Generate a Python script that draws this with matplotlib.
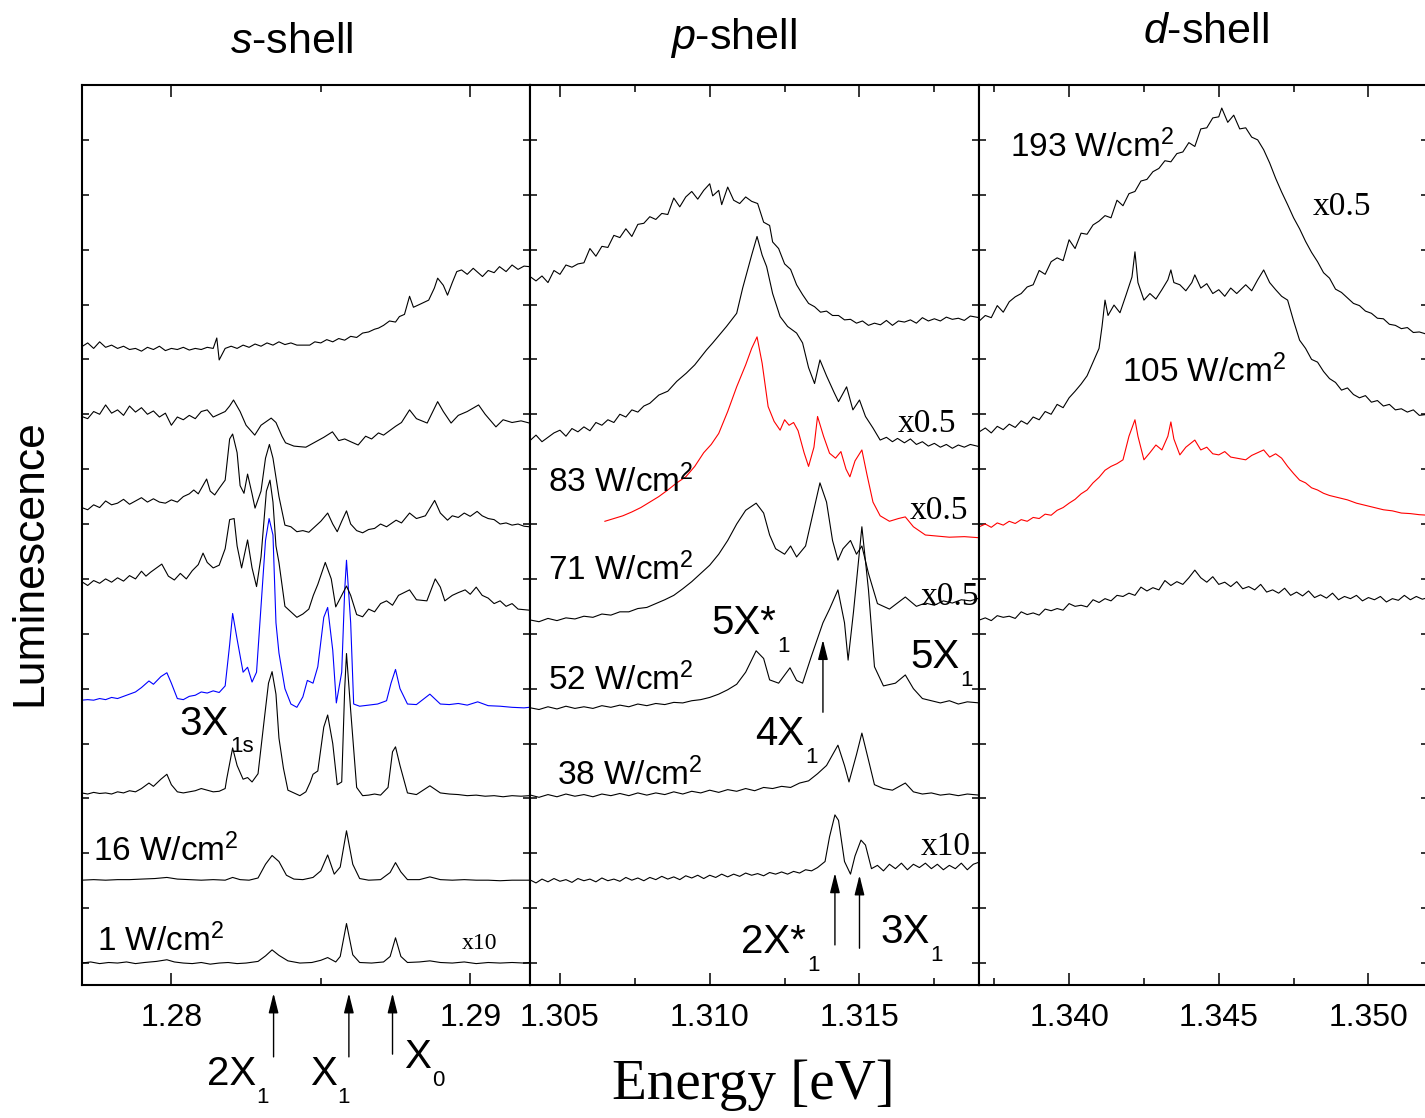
import numpy as np
import matplotlib as mpl
import matplotlib.pyplot as plt
from matplotlib.ticker import FixedLocator, FormatStrFormatter

mpl.rcParams.update({
    "font.family": "Liberation Sans",
    "mathtext.fontset": "custom",
    "mathtext.rm": "Liberation Sans",
    "mathtext.it": "Liberation Sans:italic",
    "mathtext.bf": "Liberation Sans:bold",
    "axes.linewidth": 1.5,
})

# ---------------------------------------------------------------------------
# data: (energy [eV], luminescence offset in tick units)
# ---------------------------------------------------------------------------
# s-shell, bottom -> top
S_1W = [(1.2770, 0.00), (1.2773, 0.02), (1.2776, -0.01), (1.2779, 0.01), (1.2782, 0.00),
        (1.2785, 0.02), (1.2788, -0.01), (1.2791, 0.01), (1.2795, 0.03), (1.27985, 0.06),
        (1.2801, 0.02), (1.2804, 0.00), (1.2807, -0.01), (1.2810, 0.01), (1.2813, -0.02),
        (1.2816, 0.00), (1.2819, 0.01), (1.2822, -0.01), (1.2825, 0.00), (1.2829, 0.03),
        (1.28315, 0.13), (1.28337, 0.24), (1.2836, 0.14), (1.2839, 0.04), (1.2843, 0.00),
        (1.2847, 0.01), (1.2850, 0.05), (1.28523, 0.10), (1.2855, 0.02), (1.28565, 0.12),
        (1.28586, 0.72), (1.28607, 0.15), (1.2863, 0.01), (1.2867, 0.00), (1.2871, 0.02),
        (1.28732, 0.12), (1.28750, 0.46), (1.28768, 0.12), (1.2879, 0.01), (1.2883, 0.02),
        (1.28865, 0.04), (1.2890, 0.01), (1.2894, 0.00), (1.2898, 0.02), (1.2902, -0.01),
        (1.2906, 0.01), (1.2910, 0.00), (1.2914, 0.01), (1.2918, 0.00), (1.29198, 0.01)]

S_16W = [(1.2770, 1.51), (1.2774, 1.52), (1.2778, 1.51), (1.2782, 1.52), (1.2786, 1.52),
         (1.2790, 1.53), (1.27945, 1.54), (1.27985, 1.56), (1.2802, 1.53), (1.2806, 1.52),
         (1.2810, 1.51), (1.2814, 1.52), (1.2818, 1.51), (1.28205, 1.56), (1.2823, 1.52),
         (1.2826, 1.51), (1.2829, 1.55), (1.28315, 1.80), (1.28337, 1.96), (1.2836, 1.85),
         (1.28385, 1.60), (1.2841, 1.53), (1.2844, 1.52), (1.28474, 1.56), (1.2850, 1.68),
         (1.28523, 1.97), (1.28545, 1.62), (1.28565, 1.75), (1.28586, 2.41), (1.28607, 1.80),
         (1.2863, 1.54), (1.2866, 1.51), (1.2870, 1.52), (1.28732, 1.65), (1.28750, 1.83),
         (1.28768, 1.66), (1.2879, 1.52), (1.2883, 1.52), (1.28865, 1.57), (1.2890, 1.52),
         (1.2894, 1.51), (1.2898, 1.52), (1.2902, 1.51), (1.2906, 1.51), (1.2910, 1.50),
         (1.2914, 1.51), (1.29198, 1.51)]

S_3 = [(1.2770, 3.10), (1.2772, 3.08), (1.2774, 3.11), (1.2776, 3.09), (1.2778, 3.10),
       (1.2780, 3.08), (1.2782, 3.12), (1.2784, 3.10), (1.2786, 3.14), (1.2788, 3.12),
       (1.2790, 3.18), (1.27925, 3.28), (1.2794, 3.22), (1.27965, 3.35), (1.27985, 3.44),
       (1.2800, 3.25), (1.2802, 3.12), (1.2804, 3.10), (1.2806, 3.12), (1.2808, 3.14),
       (1.2810, 3.18), (1.2812, 3.15), (1.2814, 3.12), (1.2816, 3.13), (1.2818, 3.18),
       (1.28185, 3.35), (1.28205, 3.92), (1.2822, 3.60), (1.2824, 3.35), (1.28255, 3.38),
       (1.2827, 3.30), (1.2829, 3.45), (1.2831, 4.40), (1.28325, 5.10), (1.28337, 5.31),
       (1.2835, 4.90), (1.2836, 4.10), (1.28375, 3.55), (1.2839, 3.15), (1.2841, 3.10),
       (1.2843, 3.05), (1.2845, 3.12), (1.28465, 3.30), (1.28474, 3.44), (1.2849, 3.50),
       (1.2851, 4.30), (1.28523, 4.52), (1.2854, 4.00), (1.28555, 3.25), (1.2857, 3.30),
       (1.2858, 5.00), (1.28586, 5.64), (1.2860, 4.60), (1.2862, 3.20), (1.2864, 3.05),
       (1.2866, 3.06), (1.2868, 3.08), (1.2870, 3.06), (1.28725, 3.20), (1.28740, 3.85),
       (1.28750, 3.94), (1.28765, 3.60), (1.2879, 3.10), (1.2882, 3.07), (1.28865, 3.23),
       (1.2890, 3.10), (1.2893, 3.08), (1.2896, 3.07), (1.2899, 3.05), (1.2902, 3.06),
       (1.2905, 3.04), (1.2908, 3.05), (1.2911, 3.03), (1.2914, 3.05), (1.2917, 3.04),
       (1.29198, 3.05)]

S_BLUE = [(1.2770, 4.79), (1.2772, 4.80), (1.2774, 4.79), (1.2776, 4.82), (1.2778, 4.80),
          (1.2780, 4.84), (1.2782, 4.82), (1.2784, 4.86), (1.2786, 4.90), (1.2788, 4.94),
          (1.2790, 5.02), (1.27925, 5.14), (1.2794, 5.08), (1.27965, 5.22), (1.27985, 5.29),
          (1.2800, 5.10), (1.2802, 4.82), (1.2804, 4.80), (1.2806, 4.86), (1.2808, 4.88),
          (1.2810, 4.94), (1.2812, 4.92), (1.2814, 4.96), (1.2816, 4.93), (1.2818, 5.05),
          (1.28195, 5.80), (1.28205, 6.37), (1.2822, 5.90), (1.2824, 5.30), (1.28255, 5.39),
          (1.2827, 5.12), (1.28285, 5.30), (1.2830, 6.50), (1.28315, 7.70), (1.28327, 8.10),
          (1.2834, 7.80), (1.2835, 6.20), (1.2836, 5.65), (1.2838, 5.00), (1.2840, 4.72),
          (1.2842, 4.66), (1.2844, 4.85), (1.28455, 5.15), (1.28474, 5.10), (1.2849, 5.40),
          (1.2851, 6.30), (1.28523, 6.48), (1.2854, 5.70), (1.28552, 4.74), (1.2857, 5.30),
          (1.2858, 6.80), (1.28586, 7.34), (1.2860, 6.20), (1.2861, 4.72), (1.2863, 4.68),
          (1.2866, 4.70), (1.2869, 4.72), (1.2872, 4.78), (1.28735, 5.10), (1.28750, 5.35),
          (1.28765, 5.00), (1.2879, 4.72), (1.2882, 4.71), (1.28865, 4.90), (1.2890, 4.72),
          (1.2893, 4.71), (1.2896, 4.73), (1.2899, 4.70), (1.29025, 4.76), (1.2906, 4.69),
          (1.2910, 4.68), (1.2914, 4.66), (1.2918, 4.65), (1.29198, 4.66)]

S_5 = [(1.2770, 6.95), (1.2772, 6.88), (1.2774, 6.97), (1.2776, 6.92), (1.2778, 7.00),
       (1.2780, 6.94), (1.2782, 7.02), (1.2784, 6.96), (1.2786, 7.06), (1.2788, 7.00),
       (1.2790, 7.14), (1.27915, 7.05), (1.2793, 7.12), (1.27968, 7.27), (1.2799, 7.05),
       (1.2801, 6.98), (1.2803, 7.10), (1.2805, 7.00), (1.2807, 7.15), (1.2809, 7.26),
       (1.28106, 7.47), (1.2812, 7.30), (1.2814, 7.20), (1.2816, 7.25), (1.2818, 7.55),
       (1.28195, 8.08), (1.28210, 8.10), (1.2822, 7.60), (1.28235, 7.20), (1.28255, 7.71),
       (1.2827, 7.20), (1.28285, 6.86), (1.2830, 7.40), (1.28318, 8.60), (1.28330, 8.80),
       (1.2834, 8.40), (1.2835, 7.60), (1.2836, 7.30), (1.2838, 6.50), (1.2840, 6.40),
       (1.2842, 6.30), (1.2844, 6.36), (1.2846, 6.45), (1.28475, 6.70), (1.2849, 6.90),
       (1.28515, 7.30), (1.28535, 7.00), (1.2855, 6.49), (1.2857, 6.70), (1.28586, 6.87),
       (1.2860, 6.70), (1.2862, 6.35), (1.2864, 6.31), (1.2866, 6.45), (1.2868, 6.40),
       (1.2870, 6.55), (1.2872, 6.60), (1.2874, 6.52), (1.2876, 6.70), (1.28797, 6.80),
       (1.2882, 6.62), (1.28855, 6.60), (1.28883, 7.00), (1.2890, 6.85), (1.28915, 6.60),
       (1.2894, 6.70), (1.2896, 6.75), (1.28983, 6.80), (1.2900, 6.72), (1.2902, 6.85),
       (1.2904, 6.70), (1.2906, 6.65), (1.2908, 6.55), (1.2910, 6.60), (1.2912, 6.50),
       (1.2914, 6.55), (1.2916, 6.45), (1.29198, 6.43)]

S_6 = [(1.2770, 8.30), (1.2772, 8.26), (1.2774, 8.35), (1.2776, 8.30), (1.2778, 8.42),
       (1.2780, 8.35), (1.2782, 8.38), (1.2784, 8.45), (1.2786, 8.36), (1.2788, 8.42),
       (1.2790, 8.48), (1.2792, 8.40), (1.2794, 8.46), (1.2796, 8.40), (1.2798, 8.38),
       (1.2800, 8.44), (1.2802, 8.40), (1.2804, 8.50), (1.2806, 8.55), (1.28075, 8.62),
       (1.2809, 8.55), (1.28118, 8.82), (1.2813, 8.60), (1.28145, 8.53), (1.2816, 8.65),
       (1.2818, 8.80), (1.28195, 9.55), (1.28205, 9.64), (1.2822, 9.30), (1.2823, 8.70),
       (1.28243, 8.56), (1.28255, 8.91), (1.2827, 8.55), (1.2828, 8.29), (1.2830, 8.60),
       (1.28315, 9.20), (1.28328, 9.45), (1.2834, 9.20), (1.2836, 8.50), (1.2838, 7.98),
       (1.2840, 7.95), (1.2842, 7.86), (1.2844, 7.88), (1.2846, 7.85), (1.2848, 7.95),
       (1.2850, 8.05), (1.28523, 8.20), (1.2854, 8.00), (1.28555, 7.86), (1.2857, 8.05),
       (1.28586, 8.24), (1.2860, 8.00), (1.2862, 7.88), (1.2864, 7.84), (1.2866, 7.90),
       (1.2868, 7.92), (1.2870, 8.00), (1.2872, 7.95), (1.28752, 8.07), (1.2877, 8.02),
       (1.28797, 8.20), (1.2882, 8.10), (1.2885, 8.15), (1.28881, 8.43), (1.2890, 8.20),
       (1.28924, 8.07), (1.2894, 8.15), (1.2896, 8.12), (1.2898, 8.20), (1.2900, 8.14),
       (1.29023, 8.23), (1.2904, 8.15), (1.2906, 8.10), (1.2908, 8.08), (1.2910, 8.00),
       (1.2912, 8.02), (1.2914, 7.98), (1.2916, 8.00), (1.2918, 7.96), (1.29198, 7.95)]

S_7 = [(1.2770, 9.96), (1.2772, 9.92), (1.2774, 10.05), (1.2776, 10.00), (1.2778, 10.17),
       (1.2780, 10.02), (1.2782, 10.08), (1.2784, 9.98), (1.2786, 10.15), (1.2788, 10.04),
       (1.2790, 10.12), (1.2792, 10.00), (1.2794, 10.06), (1.2796, 9.95), (1.2798, 10.02),
       (1.2800, 9.80), (1.2802, 9.95), (1.2804, 9.90), (1.2806, 9.98), (1.2808, 9.92),
       (1.2810, 10.05), (1.2812, 10.08), (1.2814, 9.95), (1.2816, 10.00), (1.2818, 10.05),
       (1.28195, 10.15), (1.28208, 10.26), (1.2823, 10.05), (1.2825, 9.80), (1.28279, 9.62),
       (1.2830, 9.80), (1.28334, 9.93), (1.2835, 9.85), (1.2837, 9.60), (1.28382, 9.48),
       (1.2841, 9.42), (1.28429, 9.41), (1.2845, 9.40), (1.2847, 9.46), (1.2849, 9.52),
       (1.2851, 9.58), (1.28539, 9.68), (1.2856, 9.52), (1.2858, 9.55), (1.2860, 9.50),
       (1.28625, 9.44), (1.2865, 9.60), (1.2867, 9.55), (1.28693, 9.66), (1.2871, 9.62),
       (1.2873, 9.70), (1.2875, 9.78), (1.2877, 9.85), (1.28797, 10.08), (1.2882, 9.92),
       (1.28856, 9.84), (1.28891, 10.23), (1.2891, 10.05), (1.28936, 9.84), (1.2896, 9.98),
       (1.2899, 10.05), (1.29028, 10.17), (1.2905, 10.00), (1.29086, 9.77), (1.2911, 9.90),
       (1.2914, 9.85), (1.2917, 9.88), (1.29198, 9.84)]

S_8 = [(1.2770, 11.23), (1.2772, 11.30), (1.2774, 11.20), (1.2776, 11.32), (1.2778, 11.22),
       (1.2780, 11.26), (1.2782, 11.20), (1.2784, 11.24), (1.2786, 11.18), (1.2788, 11.20),
       (1.2790, 11.15), (1.2792, 11.22), (1.2794, 11.18), (1.2796, 11.24), (1.2798, 11.16),
       (1.2800, 11.20), (1.2802, 11.18), (1.2804, 11.22), (1.2806, 11.17), (1.2808, 11.20),
       (1.2810, 11.18), (1.2812, 11.22), (1.2814, 11.20), (1.28152, 11.39), (1.2816, 10.99),
       (1.2818, 11.20), (1.2820, 11.24), (1.2822, 11.20), (1.2824, 11.26), (1.2826, 11.22),
       (1.2828, 11.28), (1.2830, 11.24), (1.2832, 11.30), (1.2834, 11.26), (1.2836, 11.32),
       (1.2838, 11.27), (1.2840, 11.30), (1.2842, 11.26), (1.28463, 11.26), (1.2848, 11.32),
       (1.2850, 11.30), (1.2852, 11.36), (1.2854, 11.32), (1.2856, 11.38), (1.28580, 11.35),
       (1.2860, 11.42), (1.2862, 11.40), (1.2864, 11.48), (1.2866, 11.50), (1.2868, 11.55),
       (1.28693, 11.57), (1.2871, 11.62), (1.2873, 11.70), (1.2875, 11.68), (1.28763, 11.78),
       (1.2878, 11.82), (1.28797, 12.15), (1.2881, 11.95), (1.2883, 12.00), (1.28861, 12.08),
       (1.2888, 12.30), (1.28891, 12.48), (1.2891, 12.35), (1.28924, 12.17), (1.2894, 12.40),
       (1.28955, 12.60), (1.28971, 12.63), (1.2899, 12.55), (1.2901, 12.66), (1.29041, 12.51),
       (1.2906, 12.62), (1.2908, 12.58), (1.29098, 12.69), (1.2912, 12.60), (1.2914, 12.72),
       (1.2916, 12.64), (1.2918, 12.70), (1.29198, 12.69)]

# p-shell, bottom -> top
P_X10 = [(1.30402, 1.51), (1.3042, 1.46), (1.3044, 1.53), (1.3046, 1.48), (1.3048, 1.54),
         (1.3050, 1.49), (1.3052, 1.52), (1.3054, 1.47), (1.3056, 1.54), (1.3058, 1.50),
         (1.3060, 1.53), (1.3062, 1.48), (1.3064, 1.55), (1.3066, 1.50), (1.3068, 1.53),
         (1.3070, 1.49), (1.3072, 1.56), (1.3074, 1.51), (1.3076, 1.55), (1.3078, 1.50),
         (1.3080, 1.56), (1.3082, 1.52), (1.3084, 1.58), (1.3086, 1.53), (1.3088, 1.57),
         (1.3090, 1.52), (1.3092, 1.59), (1.3094, 1.55), (1.3096, 1.60), (1.3098, 1.54),
         (1.3100, 1.60), (1.3102, 1.56), (1.3104, 1.62), (1.3106, 1.57), (1.3108, 1.62),
         (1.3110, 1.58), (1.3112, 1.64), (1.3114, 1.60), (1.3116, 1.63), (1.3118, 1.59),
         (1.3120, 1.65), (1.3122, 1.62), (1.3124, 1.66), (1.3126, 1.62), (1.3128, 1.67),
         (1.3130, 1.64), (1.3132, 1.70), (1.3134, 1.68), (1.3136, 1.74), (1.31385, 1.85),
         (1.3140, 2.30), (1.31418, 2.70), (1.3143, 2.60), (1.3145, 1.85), (1.3147, 1.62),
         (1.31485, 1.95), (1.31505, 2.24), (1.3152, 2.15), (1.3154, 1.72), (1.3156, 1.78),
         (1.3158, 1.68), (1.3160, 1.80), (1.3162, 1.72), (1.3164, 1.82), (1.3166, 1.70),
         (1.3168, 1.80), (1.3170, 1.74), (1.3172, 1.82), (1.3174, 1.72), (1.3176, 1.80),
         (1.3178, 1.70), (1.3180, 1.78), (1.3182, 1.72), (1.3184, 1.82), (1.3186, 1.70),
         (1.3188, 1.80), (1.31900, 1.84)]

P_38W = [(1.30402, 3.06), (1.3043, 3.02), (1.3046, 3.07), (1.3049, 3.03), (1.3052, 3.08),
         (1.3055, 3.04), (1.3058, 3.07), (1.3061, 3.03), (1.3064, 3.08), (1.3067, 3.05),
         (1.3070, 3.09), (1.3073, 3.05), (1.3076, 3.10), (1.3079, 3.06), (1.3082, 3.10),
         (1.3085, 3.07), (1.3088, 3.12), (1.3091, 3.08), (1.3094, 3.13), (1.3097, 3.10),
         (1.3100, 3.15), (1.3103, 3.11), (1.3106, 3.16), (1.3109, 3.13), (1.3112, 3.18),
         (1.3115, 3.14), (1.3118, 3.20), (1.3121, 3.18), (1.3124, 3.22), (1.3127, 3.20),
         (1.3130, 3.28), (1.3133, 3.32), (1.3136, 3.45), (1.3139, 3.60), (1.31428, 3.97),
         (1.3145, 3.60), (1.31465, 3.30), (1.3149, 3.80), (1.31508, 4.19), (1.3153, 3.70),
         (1.3155, 3.25), (1.3158, 3.18), (1.3161, 3.15), (1.31653, 3.28), (1.3168, 3.12),
         (1.3171, 3.08), (1.3174, 3.10), (1.3177, 3.06), (1.3180, 3.08), (1.3183, 3.05),
         (1.3186, 3.08), (1.31900, 3.06)]

P_52W = [(1.30402, 4.65), (1.3043, 4.62), (1.3046, 4.67), (1.3049, 4.63), (1.3052, 4.68),
         (1.3055, 4.64), (1.3058, 4.67), (1.3061, 4.64), (1.3064, 4.69), (1.3067, 4.66),
         (1.3070, 4.70), (1.3073, 4.67), (1.3076, 4.72), (1.3079, 4.69), (1.3082, 4.73),
         (1.3085, 4.71), (1.3088, 4.75), (1.3091, 4.74), (1.3094, 4.78), (1.3097, 4.80),
         (1.3100, 4.84), (1.3103, 4.90), (1.3106, 4.98), (1.3109, 5.08), (1.3112, 5.30),
         (1.31155, 5.69), (1.3118, 5.55), (1.3120, 5.16), (1.3123, 5.10), (1.31268, 5.38),
         (1.3129, 5.15), (1.3131, 5.10), (1.3134, 5.60), (1.31378, 6.20), (1.3140, 6.45),
         (1.31428, 6.80), (1.3145, 6.20), (1.31462, 5.52), (1.3148, 6.40), (1.31508, 7.95),
         (1.3153, 6.80), (1.3155, 5.40), (1.3158, 5.05), (1.3162, 5.10), (1.31653, 5.25),
         (1.3168, 5.00), (1.3171, 4.82), (1.3174, 4.78), (1.3177, 4.74), (1.3180, 4.78),
         (1.3183, 4.72), (1.3186, 4.76), (1.31900, 4.74)]

P_71W = [(1.30402, 6.25), (1.3043, 6.22), (1.3046, 6.28), (1.3049, 6.24), (1.3052, 6.29),
         (1.3055, 6.27), (1.3058, 6.32), (1.3061, 6.30), (1.3064, 6.36), (1.3067, 6.34),
         (1.3070, 6.40), (1.3073, 6.40), (1.3076, 6.46), (1.3079, 6.48), (1.3082, 6.55),
         (1.3085, 6.62), (1.3088, 6.70), (1.3091, 6.82), (1.3094, 6.95), (1.3097, 7.10),
         (1.3100, 7.25), (1.3103, 7.45), (1.3106, 7.70), (1.3109, 8.00), (1.3112, 8.25),
         (1.31155, 8.38), (1.3118, 8.20), (1.3120, 7.80), (1.3122, 7.55), (1.3125, 7.45),
         (1.3127, 7.60), (1.3129, 7.40), (1.3132, 7.60), (1.31345, 8.20), (1.31368, 8.75),
         (1.3139, 8.40), (1.3141, 7.70), (1.31428, 7.34), (1.31445, 7.55), (1.3147, 7.70),
         (1.3149, 7.45), (1.31508, 7.60), (1.3153, 7.10), (1.3156, 6.55), (1.3160, 6.45),
         (1.31653, 6.67), (1.3169, 6.50), (1.3172, 6.56), (1.3175, 6.52), (1.3178, 6.60),
         (1.3181, 6.56), (1.3184, 6.62), (1.3187, 6.60), (1.31900, 6.65)]

P_83W = [(1.30650, 8.05), (1.3068, 8.10), (1.3071, 8.15), (1.3074, 8.22), (1.3077, 8.30),
         (1.3080, 8.40), (1.3083, 8.50), (1.3086, 8.62), (1.3089, 8.75), (1.3092, 8.86),
         (1.3095, 9.05), (1.3098, 9.30), (1.31005, 9.45), (1.3103, 9.65), (1.3106, 10.05),
         (1.3109, 10.50), (1.3112, 10.90), (1.3114, 11.20), (1.31158, 11.41), (1.31175, 10.93),
         (1.31195, 10.14), (1.31215, 9.87), (1.31235, 9.71), (1.3125, 9.90), (1.31265, 9.80),
         (1.3128, 9.85), (1.31295, 9.70), (1.31315, 9.30), (1.3133, 9.05), (1.31348, 9.40),
         (1.3136, 9.96), (1.3138, 9.60), (1.3140, 9.29), (1.3142, 9.20), (1.31438, 9.32),
         (1.31455, 9.00), (1.31468, 8.86), (1.31485, 9.15), (1.31508, 9.35), (1.31525, 8.90),
         (1.31545, 8.40), (1.31569, 8.15), (1.3160, 8.05), (1.3163, 8.10), (1.31653, 8.13),
         (1.3168, 7.95), (1.3172, 7.80), (1.3176, 7.78), (1.3180, 7.76), (1.3185, 7.77),
         (1.31900, 7.75)]

P_X05 = [(1.30402, 9.53), (1.3042, 9.62), (1.3044, 9.50), (1.3046, 9.58), (1.3048, 9.66),
         (1.3050, 9.71), (1.3052, 9.60), (1.3054, 9.74), (1.3056, 9.68), (1.3058, 9.77),
         (1.3060, 9.70), (1.3062, 9.85), (1.3064, 9.80), (1.3066, 9.90), (1.3068, 9.85),
         (1.3070, 10.00), (1.3072, 9.95), (1.3074, 10.08), (1.3076, 10.04), (1.3078, 10.15),
         (1.3080, 10.20), (1.3083, 10.35), (1.3086, 10.42), (1.3089, 10.60), (1.30922, 10.75),
         (1.3095, 10.90), (1.30989, 11.17), (1.3101, 11.30), (1.31056, 11.60), (1.3109, 11.84),
         (1.3111, 12.30), (1.3114, 12.90), (1.31158, 13.24), (1.31175, 12.90), (1.3119, 12.69),
         (1.3121, 12.20), (1.31235, 11.78), (1.3126, 11.60), (1.3129, 11.48), (1.3131, 11.30),
         (1.3133, 10.85), (1.3135, 10.56), (1.31368, 10.99), (1.3139, 10.70), (1.31415, 10.40),
         (1.3143, 10.23), (1.31457, 10.50), (1.31478, 10.08), (1.3150, 10.26), (1.3152, 9.96),
         (1.31545, 9.75), (1.31569, 9.53), (1.3159, 9.58), (1.3161, 9.50), (1.31627, 9.56),
         (1.3165, 9.48), (1.3167, 9.55), (1.3169, 9.45), (1.3171, 9.50), (1.3173, 9.42),
         (1.3175, 9.47), (1.3177, 9.40), (1.3179, 9.45), (1.3181, 9.38), (1.3183, 9.44),
         (1.3185, 9.40), (1.3187, 9.45), (1.31900, 9.41)]

P_TOP = [(1.3040, 12.51), (1.3042, 12.43), (1.3044, 12.52), (1.3046, 12.40), (1.3048, 12.62),
         (1.3050, 12.55), (1.3052, 12.72), (1.3054, 12.68), (1.3056, 12.74), (1.3058, 12.76),
         (1.3060, 13.02), (1.3062, 12.88), (1.3064, 13.06), (1.3066, 13.04), (1.3068, 13.26),
         (1.3070, 13.22), (1.3072, 13.38), (1.3074, 13.24), (1.3076, 13.46), (1.3078, 13.48),
         (1.3080, 13.60), (1.3082, 13.55), (1.3084, 13.66), (1.3086, 13.64), (1.3088, 13.94),
         (1.3090, 13.78), (1.3092, 13.96), (1.3094, 14.06), (1.3096, 13.92), (1.3098, 14.08),
         (1.3100, 14.20), (1.3101, 13.98), (1.3103, 14.08), (1.3104, 13.82), (1.3106, 14.14),
         (1.3108, 13.90), (1.3110, 13.84), (1.3112, 13.96), (1.3114, 13.88), (1.3116, 13.84),
         (1.3118, 13.50), (1.3120, 13.44), (1.3121, 13.14), (1.3123, 13.02), (1.3125, 12.74),
         (1.3127, 12.64), (1.3129, 12.36), (1.3131, 12.18), (1.3133, 12.02), (1.3135, 11.96),
         (1.3137, 11.86), (1.3139, 11.88), (1.3141, 11.80), (1.3143, 11.80), (1.3145, 11.72),
         (1.3147, 11.73), (1.3149, 11.66), (1.3151, 11.70), (1.3153, 11.62), (1.3155, 11.66),
         (1.3157, 11.63), (1.3159, 11.71), (1.3161, 11.62), (1.3163, 11.70), (1.3165, 11.68),
         (1.3167, 11.72), (1.3169, 11.66), (1.3171, 11.76), (1.3173, 11.70), (1.3175, 11.74),
         (1.3177, 11.70), (1.3179, 11.77), (1.3181, 11.73), (1.3183, 11.75), (1.3185, 11.71),
         (1.3187, 11.79), (1.3190, 11.76)]

# d-shell, bottom -> top
D_BOT = [(1.3370, 6.25), (1.3372, 6.29), (1.3374, 6.24), (1.3376, 6.33), (1.3378, 6.30),
         (1.3380, 6.32), (1.3382, 6.28), (1.3384, 6.40), (1.3386, 6.35), (1.3388, 6.38),
         (1.3390, 6.34), (1.3392, 6.45), (1.3394, 6.42), (1.3396, 6.46), (1.3398, 6.43),
         (1.3400, 6.55), (1.3402, 6.50), (1.3404, 6.52), (1.3406, 6.49), (1.3408, 6.62),
         (1.3410, 6.57), (1.3412, 6.64), (1.3414, 6.60), (1.3416, 6.70), (1.3418, 6.68),
         (1.3420, 6.74), (1.3422, 6.70), (1.3424, 6.85), (1.3426, 6.78), (1.3428, 6.84),
         (1.3430, 6.80), (1.3432, 6.97), (1.3434, 6.88), (1.3436, 6.95), (1.3438, 6.90),
         (1.3440, 7.02), (1.3442, 7.16), (1.3444, 7.02), (1.3446, 6.94), (1.3448, 7.04),
         (1.3450, 6.90), (1.3452, 6.94), (1.3454, 6.86), (1.3456, 6.95), (1.3458, 6.82),
         (1.3460, 6.86), (1.3462, 6.80), (1.3464, 6.90), (1.3466, 6.76), (1.3468, 6.80),
         (1.3470, 6.74), (1.3472, 6.83), (1.3474, 6.70), (1.3476, 6.76), (1.3478, 6.69),
         (1.3480, 6.78), (1.3482, 6.66), (1.3484, 6.71), (1.3486, 6.65), (1.3488, 6.74),
         (1.3490, 6.62), (1.3492, 6.68), (1.3494, 6.64), (1.3496, 6.70), (1.3498, 6.60),
         (1.3500, 6.66), (1.3502, 6.62), (1.3504, 6.68), (1.3506, 6.58), (1.3508, 6.64),
         (1.3510, 6.61), (1.3512, 6.70), (1.3514, 6.62), (1.3516, 6.68), (1.3518, 6.63),
         (1.3520, 6.66)]

D_RED = [(1.3370, 7.95), (1.3372, 8.00), (1.3374, 7.94), (1.3376, 8.02), (1.3378, 7.98),
         (1.3380, 8.05), (1.3382, 8.01), (1.3384, 8.08), (1.3386, 8.05), (1.3388, 8.12),
         (1.3390, 8.10), (1.3392, 8.18), (1.3394, 8.16), (1.3396, 8.25), (1.3398, 8.30),
         (1.3400, 8.38), (1.3402, 8.45), (1.3404, 8.55), (1.3406, 8.62), (1.3408, 8.75),
         (1.3410, 8.85), (1.3412, 8.98), (1.3414, 9.05), (1.3416, 9.10), (1.3418, 9.17),
         (1.3420, 9.60), (1.3422, 9.90), (1.3423, 9.60), (1.3425, 9.17), (1.3427, 9.30),
         (1.3429, 9.44), (1.3431, 9.35), (1.3433, 9.60), (1.3434, 9.86), (1.3435, 9.55),
         (1.3437, 9.26), (1.3439, 9.40), (1.3442, 9.53), (1.3444, 9.35), (1.3446, 9.40),
         (1.3448, 9.28), (1.3450, 9.26), (1.3452, 9.32), (1.3454, 9.22), (1.3456, 9.20),
         (1.3459, 9.17), (1.3461, 9.25), (1.3463, 9.30), (1.3465, 9.35), (1.3467, 9.22),
         (1.3469, 9.28), (1.3471, 9.20), (1.3473, 9.05), (1.3475, 8.92), (1.3477, 8.80),
         (1.3479, 8.75), (1.3481, 8.66), (1.3483, 8.62), (1.3485, 8.56), (1.3487, 8.52),
         (1.3490, 8.48), (1.3493, 8.44), (1.3496, 8.38), (1.3499, 8.34), (1.3502, 8.30),
         (1.3505, 8.26), (1.3508, 8.24), (1.3511, 8.20), (1.3514, 8.19), (1.3517, 8.17),
         (1.3520, 8.16)]

D_105W = [(1.3370, 9.68), (1.3372, 9.75), (1.3374, 9.66), (1.3376, 9.78), (1.3378, 9.72),
          (1.3380, 9.82), (1.3382, 9.76), (1.3384, 9.88), (1.3386, 9.82), (1.3388, 9.95),
          (1.3390, 9.90), (1.3392, 10.05), (1.3394, 10.00), (1.3396, 10.18), (1.3398, 10.12),
          (1.3400, 10.30), (1.3402, 10.42), (1.3404, 10.55), (1.3406, 10.70), (1.3408, 10.95),
          (1.3410, 11.20), (1.3411, 11.60), (1.3412, 12.08), (1.3413, 11.80), (1.3415, 11.99),
          (1.3417, 11.85), (1.3419, 12.17), (1.3421, 12.50), (1.3422, 12.96), (1.3423, 12.40),
          (1.3425, 12.08), (1.3427, 12.20), (1.3429, 12.10), (1.3431, 12.27), (1.3433, 12.45),
          (1.3434, 12.63), (1.3435, 12.40), (1.3437, 12.36), (1.3439, 12.25), (1.3441, 12.40),
          (1.3442, 12.54), (1.3444, 12.30), (1.3446, 12.38), (1.3448, 12.20), (1.3450, 12.27),
          (1.3452, 12.15), (1.3454, 12.30), (1.3456, 12.20), (1.3459, 12.36), (1.3461, 12.25),
          (1.3463, 12.45), (1.3465, 12.63), (1.3467, 12.40), (1.3469, 12.27), (1.3471, 12.15),
          (1.3473, 12.08), (1.3475, 11.70), (1.3477, 11.35), (1.3479, 11.20), (1.3481, 11.00),
          (1.3483, 10.95), (1.3485, 10.78), (1.3487, 10.65), (1.3489, 10.58), (1.3491, 10.44),
          (1.3493, 10.48), (1.3495, 10.36), (1.3497, 10.30), (1.3499, 10.34), (1.3501, 10.22),
          (1.3503, 10.25), (1.3505, 10.15), (1.3507, 10.18), (1.3509, 10.08), (1.3511, 10.10),
          (1.3513, 10.04), (1.3515, 10.08), (1.3517, 9.98), (1.3520, 10.00)]

D_193W = [(1.3370, 11.70), (1.3372, 11.80), (1.3374, 11.76), (1.3376, 11.98), (1.3378, 11.86),
          (1.3380, 12.05), (1.3382, 12.14), (1.3384, 12.20), (1.3386, 12.32), (1.3388, 12.36),
          (1.3390, 12.62), (1.3392, 12.55), (1.3394, 12.78), (1.3396, 12.85), (1.3398, 12.80),
          (1.3400, 13.18), (1.3402, 13.02), (1.3404, 13.30), (1.3406, 13.28), (1.3408, 13.45),
          (1.3410, 13.52), (1.3412, 13.62), (1.3414, 13.58), (1.3416, 13.90), (1.3418, 13.80),
          (1.3420, 14.02), (1.3422, 14.06), (1.3424, 14.25), (1.3426, 14.28), (1.3428, 14.42),
          (1.3430, 14.48), (1.3432, 14.62), (1.3434, 14.60), (1.3436, 14.75), (1.3438, 14.78),
          (1.3440, 14.95), (1.3442, 14.88), (1.3444, 15.20), (1.3446, 15.22), (1.3448, 15.40),
          (1.3450, 15.42), (1.3451, 15.58), (1.3453, 15.32), (1.3455, 15.45), (1.3457, 15.20),
          (1.3459, 15.22), (1.3461, 15.05), (1.3463, 15.00), (1.3465, 14.82), (1.3467, 14.58),
          (1.3469, 14.30), (1.3471, 14.05), (1.3473, 13.82), (1.3475, 13.58), (1.3477, 13.38),
          (1.3479, 13.15), (1.3481, 12.95), (1.3483, 12.78), (1.3485, 12.58), (1.3487, 12.48),
          (1.3489, 12.28), (1.3491, 12.22), (1.3493, 12.12), (1.3495, 12.02), (1.3497, 11.98),
          (1.3499, 11.88), (1.3501, 11.84), (1.3503, 11.75), (1.3505, 11.74), (1.3507, 11.64),
          (1.3509, 11.62), (1.3511, 11.56), (1.3513, 11.58), (1.3515, 11.49), (1.3517, 11.50),
          (1.3520, 11.45)]

# ---------------------------------------------------------------------------
fig = plt.figure(figsize=(14.25, 11.18), dpi=100)
W, H = 1425.0, 1118.0
bottom, top = 1 - 985 / H, 1 - 85 / H
edges = [81.7, 530.0, 979.3, 1428.3]
xlims = [(1.2770, 1.2920), (1.3040, 1.3190), (1.3370, 1.3520)]
major = [[1.28, 1.29], [1.305, 1.310, 1.315], [1.340, 1.345, 1.350]]
minor = [[1.285], [1.3075, 1.3125, 1.3175], [1.3375, 1.3425, 1.3475]]
fmts = ["%.2f", "%.3f", "%.3f"]

axes = []
for i in range(3):
    ax = fig.add_axes([edges[i] / W, bottom, (edges[i + 1] - edges[i]) / W, top - bottom])
    ax.set_xlim(*xlims[i])
    ax.set_ylim(-0.4, 16.0)
    ax.xaxis.set_major_locator(FixedLocator(major[i]))
    ax.xaxis.set_minor_locator(FixedLocator(minor[i]))
    ax.xaxis.set_major_formatter(FormatStrFormatter(fmts[i]))
    ax.yaxis.set_major_locator(FixedLocator(np.arange(0, 17)))
    ax.set_yticklabels([])
    ax.tick_params(direction="in", which="both", top=True, right=True, width=1.1)
    ax.tick_params(axis="x", which="major", length=8.5, labelsize=23, pad=13)
    ax.tick_params(axis="x", which="minor", length=5)
    ax.tick_params(axis="y", which="major", length=5)
    axes.append(ax)


def trace(ax, pts, color="black"):
    e, v = np.array(pts).T
    ax.plot(e, v, color=color, lw=0.8)


def peak_label(ax, x, y, main, sub, size=29, subsize=16, dy=-7):
    t = ax.text(x, y, main, fontsize=size, va="baseline", ha="left", clip_on=False)
    ax.annotate(sub, xy=(1, 0), xycoords=t, xytext=(0.5, dy), textcoords="offset points",
                fontsize=subsize, va="baseline", ha="left", annotation_clip=False)


ax1, ax2, ax3 = axes
for pts, c in [(S_1W, "black"), (S_16W, "black"), (S_3, "black"), (S_BLUE, "blue"),
               (S_5, "black"), (S_6, "black"), (S_7, "black"), (S_8, "black")]:
    trace(ax1, pts, c)
for pts, c in [(P_X10, "black"), (P_38W, "black"), (P_52W, "black"), (P_71W, "black"),
               (P_83W, "red"), (P_X05, "black"), (P_TOP, "black")]:
    trace(ax2, pts, c)
for pts, c in [(D_BOT, "black"), (D_RED, "red"), (D_105W, "black"), (D_193W, "black")]:
    trace(ax3, pts, c)

lab = dict(fontsize=24, va="baseline", ha="left")
ser = dict(family="Liberation Serif", va="baseline", ha="left")
arr = dict(arrowstyle="-|>,head_length=0.6,head_width=0.15", color="black", lw=1.0,
           mutation_scale=20, shrinkA=0, shrinkB=0)

# s-shell annotations
ax1.text(1.27752, 0.22, "1 W/cm$^2$", **lab)
ax1.text(1.27737, 1.85, "16 W/cm$^2$", **lab)
ax1.text(1.28971, 0.26, "x10", fontsize=17, **ser)
peak_label(ax1, 1.28028, 4.16, "3X", "1s")
peak_label(ax1, 1.28118, -2.22, "2X", "1")
peak_label(ax1, 1.28463, -2.22, "X", "1")
peak_label(ax1, 1.28780, -1.91, "X", "0")
for e0, y0 in [(1.28342, -1.71), (1.28594, -1.71), (1.28740, -1.66)]:
    ax1.annotate("", xy=(e0, -0.55), xytext=(e0, y0), arrowprops=arr, annotation_clip=False)

# p-shell annotations
ax2.text(1.30459, 8.58, "83 W/cm$^2$", **lab)
ax2.text(1.30459, 6.98, "71 W/cm$^2$", **lab)
ax2.text(1.30459, 4.98, "52 W/cm$^2$", **lab)
ax2.text(1.30489, 3.24, "38 W/cm$^2$", **lab)
ax2.text(1.31627, 9.68, "x0.5", fontsize=24, **ser)
ax2.text(1.31666, 8.09, "x0.5", fontsize=24, **ser)
ax2.text(1.31703, 6.52, "x0.5", fontsize=24, **ser)
ax2.text(1.31706, 1.97, "x10", fontsize=24, **ser)
peak_label(ax2, 1.31006, 6.00, "5X*", "1")
peak_label(ax2, 1.31669, 5.38, "5X", "1")
peak_label(ax2, 1.31153, 3.97, "4X", "1")
peak_label(ax2, 1.31106, 0.18, "2X*", "1")
peak_label(ax2, 1.31569, 0.36, "3X", "1")
ax2.annotate("", xy=(1.31378, 5.89), xytext=(1.31378, 4.57), arrowprops=arr)
ax2.annotate("", xy=(1.31418, 1.64), xytext=(1.31418, 0.33), arrowprops=arr)
ax2.annotate("", xy=(1.31500, 1.60), xytext=(1.31500, 0.27), arrowprops=arr)

# d-shell annotations
ax3.text(1.33801, 14.69, "193 W/cm$^2$", **lab)
ax3.text(1.34177, 10.59, "105 W/cm$^2$", **lab)
ax3.text(1.34815, 13.63, "x0.5", fontsize=24, **ser)

# titles and axis labels
fig.text(292 / W, 1 - 42 / H, "$s$-shell", fontsize=31, ha="center", va="center")
fig.text(733 / W, 1 - 38 / H, "$p$-shell", fontsize=31, ha="center", va="center")
fig.text(1206 / W, 1 - 32 / H, "$d$-shell", fontsize=31, ha="center", va="center")
fig.text(30 / W, 1 - 563 / H, "Luminescence", fontsize=32, rotation=90,
         ha="center", va="center")
fig.text(753 / W, 1 - 1085 / H, "Energy [eV]", fontsize=41, family="Liberation Serif",
         ha="center", va="center")

fig.savefig("out.png", dpi=100, facecolor="white")
